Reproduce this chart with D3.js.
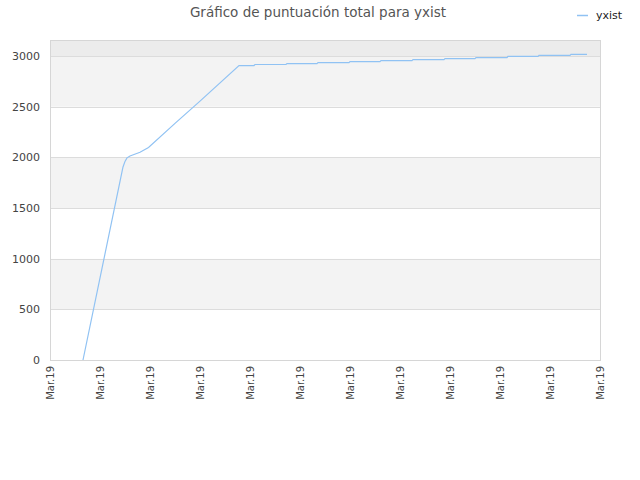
<!DOCTYPE html>
<html>
<head>
<meta charset="utf-8">
<script src="https://d3js.org/d3.v7.min.js"></script>
<style>
  body { margin: 0; background: #fff; }
  text { font-family: "DejaVu Sans", sans-serif; }
</style>
</head>
<body>
<svg id="chart"></svg>
<script>
  // time position (in tick units) and total score
  var days = [0.66, 1.46, 1.50, 1.54, 1.60, 1.80, 1.97, 2.50, 3.00, 3.78,
    4.08, 4.10, 4.72, 4.74, 5.34, 5.36, 5.98, 6.00, 6.60, 6.62, 7.24,
    7.26, 7.88, 7.90, 8.50, 8.52, 9.14, 9.16, 9.76, 9.78, 10.40, 10.42, 10.74];
  var scores = [0, 1905, 1960, 1995, 2013, 2050, 2097, 2335, 2555, 2906,
    2906, 2916, 2916, 2925, 2925, 2935, 2935, 2945, 2945, 2955, 2955,
    2964, 2964, 2974, 2974, 2984, 2984, 2997, 2997, 3007, 3007, 3017, 3017];
  var xTicks = [0, 1, 2, 3, 4, 5, 6, 7, 8, 9, 10, 11];
  var xTickLabels = ["Mar.19", "Mar.19", "Mar.19", "Mar.19", "Mar.19", "Mar.19",
    "Mar.19", "Mar.19", "Mar.19", "Mar.19", "Mar.19", "Mar.19"];
  var yTicks = [0, 500, 1000, 1500, 2000, 2500, 3000];
  var seriesName = "yxist";
  var title = "Gráfico de puntuación total para yxist";

  var width = 640, height = 480;
  var plotLeft = 50, plotRight = 600, plotTop = 40, plotBottom = 360;
  var lineColor = "#90c2f3";

  var svg = d3.select("#chart").attr("width", width).attr("height", height);

  var x = d3.scaleLinear().domain([0, 11]).range([plotLeft, plotRight]);
  var y = d3.scaleLinear().domain([0, 3158]).range([plotBottom, plotTop]);

  // background bands
  var bands = [];
  for (var i = 0; i < yTicks.length - 1; i++) bands.push([yTicks[i], yTicks[i + 1]]);
  svg.selectAll("rect.band")
    .data(bands)
    .enter().append("rect")
    .attr("class", "band")
    .attr("x", plotLeft)
    .attr("width", plotRight - plotLeft)
    .attr("y", function(d) { return y(d[1]); })
    .attr("height", function(d) { return y(d[0]) - y(d[1]); })
    .attr("fill", function(d, i) { return i % 2 == 1 ? "#f3f3f3" : "#ffffff"; });

  svg.append("rect")
    .attr("x", plotLeft).attr("width", plotRight - plotLeft)
    .attr("y", plotTop).attr("height", y(3000) - plotTop)
    .attr("fill", "#ececec");

  // grid lines
  svg.selectAll("line.grid")
    .data(yTicks)
    .enter().append("line")
    .attr("x1", plotLeft).attr("x2", plotRight)
    .attr("y1", function(d) { return Math.round(y(d)) + 0.5; })
    .attr("y2", function(d) { return Math.round(y(d)) + 0.5; })
    .attr("stroke", "#dcdcdc");

  // frame
  svg.append("rect")
    .attr("x", plotLeft + 0.5).attr("y", plotTop + 0.5)
    .attr("width", plotRight - plotLeft).attr("height", plotBottom - plotTop)
    .attr("fill", "none").attr("stroke", "#d6d6d6");

  // y labels
  svg.selectAll("text.ylab")
    .data(yTicks)
    .enter().append("text")
    .attr("x", 40)
    .attr("y", function(d) { return y(d) + 4; })
    .attr("text-anchor", "end")
    .attr("font-size", 11)
    .attr("fill", "#444")
    .text(function(d) { return d; });

  // x labels
  svg.selectAll("text.xlab")
    .data(xTicks)
    .enter().append("text")
    .attr("transform", function(d) { return "translate(" + (x(d) + 4) + "," + 366 + ") rotate(-90)"; })
    .attr("text-anchor", "end")
    .attr("font-size", 10)
    .attr("fill", "#444")
    .text(function(d, i) { return xTickLabels[i]; });

  // the line
  var pts = days.map(function(d, i) { return [d, scores[i]]; });
  svg.append("path")
    .datum(pts)
    .attr("fill", "none")
    .attr("stroke", lineColor)
    .attr("stroke-width", 1.2)
    .attr("d", d3.line().x(function(d) { return x(d[0]); }).y(function(d) { return y(d[1]); }));

  // title
  svg.append("text")
    .attr("x", 318).attr("y", 17)
    .attr("text-anchor", "middle")
    .attr("font-size", 13.5)
    .attr("fill", "#555")
    .text(title);

  // legend
  svg.append("line")
    .attr("x1", 577).attr("x2", 588)
    .attr("y1", 15.5).attr("y2", 15.5)
    .attr("stroke", lineColor).attr("stroke-width", 1.5);
  svg.append("text")
    .attr("x", 596).attr("y", 19)
    .attr("font-size", 11)
    .attr("fill", "#222")
    .text(seriesName);
</script>
</body>
</html>
